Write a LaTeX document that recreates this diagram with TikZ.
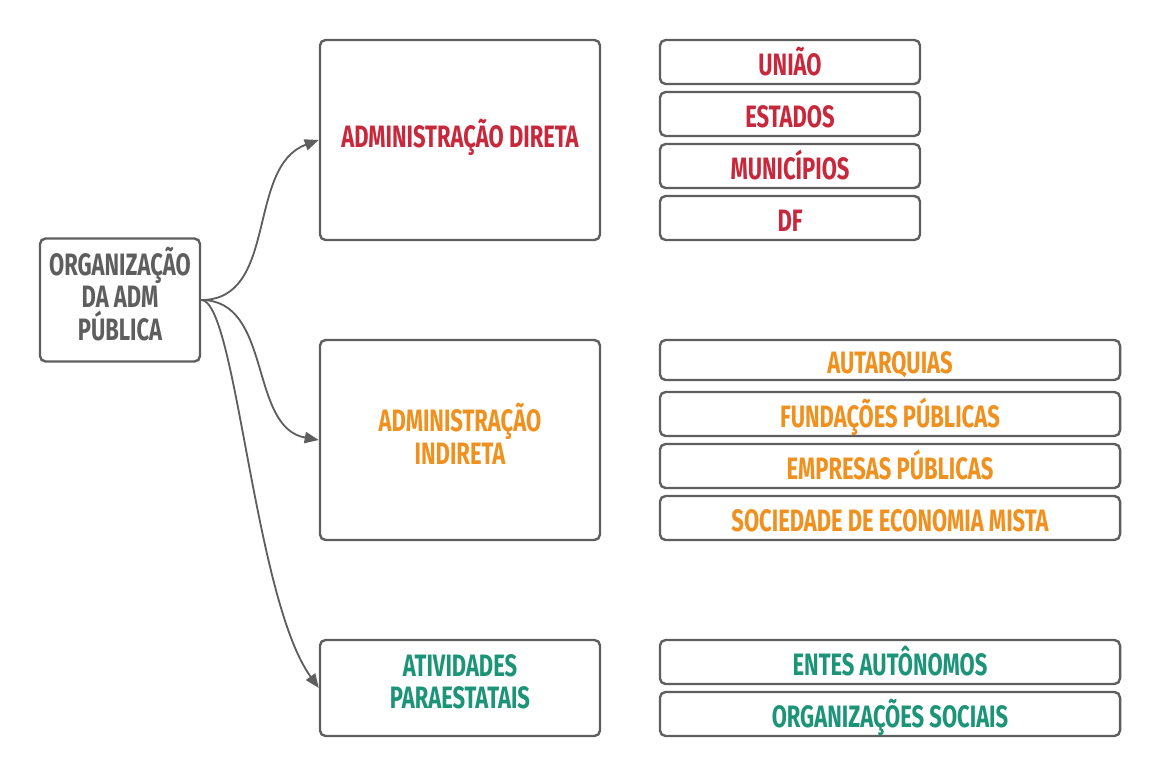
\documentclass[tikz,border=0pt]{standalone}
\usepackage{fontspec}
\setmainfont{Fira Sans}[FakeStretch=0.71]
\usetikzlibrary{arrows.meta,positioning}
\definecolor{linegray}{HTML}{5E5E5E}
\definecolor{dirred}{HTML}{C8283C}
\definecolor{indorange}{HTML}{F0901E}
\definecolor{paragreen}{HTML}{1B9477}

\begin{document}
\begin{tikzpicture}[x=0.025cm,y=-0.025cm,
  box/.style={draw=linegray,line width=1.7pt,rounded corners=4pt,fill=white,
    align=center,inner sep=0pt,text depth=9pt,font=\bfseries\fontsize{22}{23}\selectfont},
  bigbox/.style={box,minimum width=7cm,minimum height=5cm},
  item/.style={box,minimum height=1.1cm,text height=18.5pt,text depth=0pt},
  conn/.style={draw=linegray,line width=1.3pt,-{Triangle[length=10pt,width=8pt]}}]
\useasboundingbox (0,0) rectangle (1160,776);
% main column
\node[box,minimum width=4cm,minimum height=3.075cm,text=linegray] (root) at (120,300)
  {ORGANIZAÇÃO\\DA ADM\\PÚBLICA};
\node[bigbox,text=dirred] (dir) at (460,140) {ADMINISTRAÇÃO DIRETA};
\node[bigbox,text=indorange] (ind) at (460,440) {ADMINISTRAÇÃO\\INDIRETA};
\node[bigbox,minimum height=2.4cm,text=paragreen] (par) at (460,688) {ATIVIDADES\\PARAESTATAIS};
% lists
\foreach \t [count=\i] in {UNIÃO,ESTADOS,MUNICÍPIOS,DF}
  \node[item,minimum width=6.5cm,text=dirred] (d\i) at (790,{62+52*(\i-1)}) {\t};
\node[item,minimum width=11.5cm,minimum height=1cm,text=indorange] (i1) at (890,360) {AUTARQUIAS};
\foreach \t [count=\i from 2] in {FUNDAÇÕES PÚBLICAS,EMPRESAS PÚBLICAS,SOCIEDADE DE ECONOMIA MISTA}
  \node[item,minimum width=11.5cm,text=indorange] (i\i) at (890,{414+52*(\i-2)}) {\t};
\node[item,minimum width=11.5cm,text=paragreen] (p1) at (890,662) {ENTES AUTÔNOMOS};
\node[item,minimum width=11.5cm,text=paragreen] (p2) at (890,714) {ORGANIZAÇÕES SOCIAIS};
% connectors
\draw[conn] (root.east) to[out=0,in=200] (dir.west);
\draw[conn] (root.east) to[out=0,in=170] (ind.west);
\draw[conn] (root.east) .. controls +(35,0) and +(-65,-90) .. (par.west);
\end{tikzpicture}
\end{document}
